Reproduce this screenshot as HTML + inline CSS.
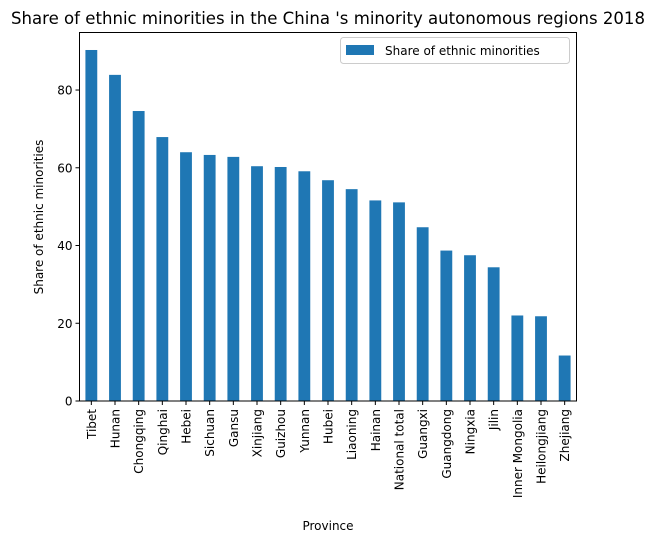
<!DOCTYPE html>
<html><head><meta charset="utf-8"><style>
body{margin:0;background:#fff;}
svg text{font-family:"DejaVu Sans","Liberation Sans",sans-serif;fill:#000;}
</style></head><body>
<svg id="chart" width="655" height="544" xmlns="http://www.w3.org/2000/svg">
<text x="328" y="24" font-size="16.5" text-anchor="middle" textLength="634" lengthAdjust="spacingAndGlyphs">Share of ethnic minorities in the China 's minority autonomous regions 2018</text>
<g id="bars"></g>
<g id="xticks"></g>
<g id="yticks"></g>
<rect x="79.5" y="32.5" width="497" height="368.5" fill="none" stroke="#000" stroke-width="1"/>
<text x="328" y="530" font-size="12" text-anchor="middle">Province</text>
<text transform="translate(43,217) rotate(-90)" font-size="12" text-anchor="middle">Share of ethnic minorities</text>
<g>
<rect x="340.5" y="37.5" width="229" height="26" rx="3" fill="#fff" stroke="#ccc"/>
<rect x="346" y="45" width="28" height="10" fill="#1f77b4"/>
<text x="385" y="55" font-size="12">Share of ethnic minorities</text>
</g>
</svg>
<script>
const categories=["Tibet","Hunan","Chongqing","Qinghai","Hebei","Sichuan","Gansu","Xinjiang","Guizhou","Yunnan","Hubei","Liaoning","Hainan","National total","Guangxi","Guangdong","Ningxia","Jilin","Inner Mongolia","Heilongjiang","Zhejiang"];
const values=[90.3,83.9,74.6,67.9,64.0,63.3,62.8,60.4,60.2,59.1,56.8,54.5,51.6,51.1,44.7,38.7,37.5,34.4,22.0,21.8,11.7];
const yTicks=[0,20,40,60,80];
const NS="http://www.w3.org/2000/svg";
const L=79.5,R=576.5,T=32.5,B=401,yMax=94.8;
const step=(R-L)/categories.length;
const xc=i=>L+step*(i+0.5);
const y=v=>B-(v/yMax)*(B-T);
const bars=document.getElementById('bars'),xt=document.getElementById('xticks'),yt=document.getElementById('yticks');
categories.forEach((c,i)=>{
 const r=document.createElementNS(NS,'rect');
 r.setAttribute('x',xc(i)-step*0.25);r.setAttribute('width',step*0.5);
 r.setAttribute('y',y(values[i]));r.setAttribute('height',B-y(values[i]));
 r.setAttribute('fill','#1f77b4');
 
 
 bars.appendChild(r);
 const l=document.createElementNS(NS,'line');
 l.setAttribute('x1',xc(i));l.setAttribute('x2',xc(i));l.setAttribute('y1',B);l.setAttribute('y2',B+4);l.setAttribute('stroke','#000');
 
 
 xt.appendChild(l);
 const t=document.createElementNS(NS,'text');
 t.setAttribute('transform','translate('+(xc(i)+4.5)+','+(B+8)+') rotate(-90)');
 t.setAttribute('text-anchor','end');t.setAttribute('font-size','12');t.textContent=c;
 
 
 xt.appendChild(t);
});
yTicks.forEach(v=>{
 const l=document.createElementNS(NS,'line');
 l.setAttribute('x1',L-4);l.setAttribute('x2',L);l.setAttribute('y1',y(v));l.setAttribute('y2',y(v));l.setAttribute('stroke','#000');
 
 
 yt.appendChild(l);
 const t=document.createElementNS(NS,'text');
 t.setAttribute('x',L-7);t.setAttribute('y',y(v)+4.5);t.setAttribute('text-anchor','end');t.setAttribute('font-size','12');t.textContent=v;
 
 
 yt.appendChild(t);
});
</script>
</body></html>
